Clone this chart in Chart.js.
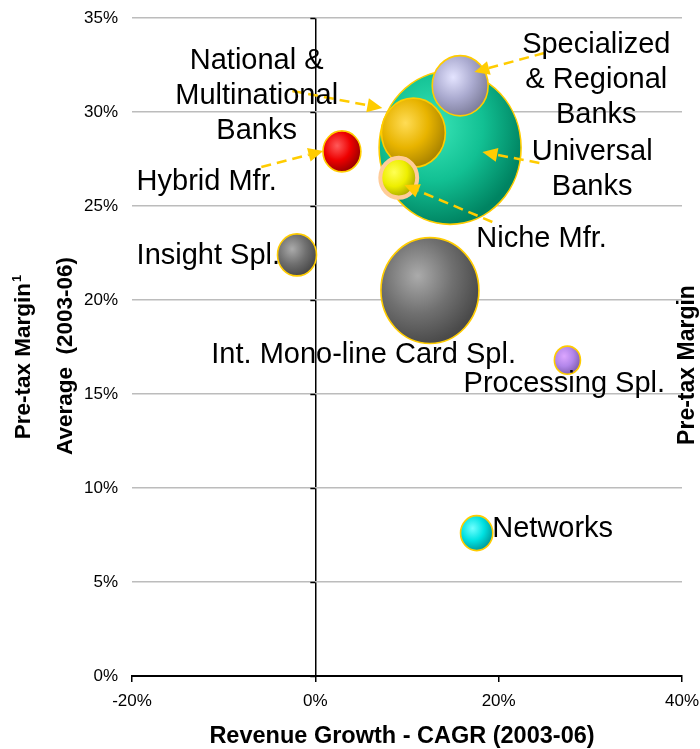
<!DOCTYPE html>
<html>
<head>
<meta charset="utf-8">
<script src="https://cdn.jsdelivr.net/npm/chart.js@4.4.0/dist/chart.umd.min.js"></script>
<style>
  html, body { margin: 0; padding: 0; background: #ffffff; }
  canvas { display: block; }
</style>
</head>
<body>
<canvas id="chart" width="700" height="749"></canvas>
<script>
// Card industry segments: revenue growth vs. pre-tax margin (2003-06), bubble = revenue pool
const segments = [
  'Universal Banks',
  'Int. Mono-line Card Spl.',
  'Specialized & Regional Banks',
  'National & Multinational Banks',
  'Insight Spl.',
  'Hybrid Mfr.',
  'Niche Mfr.',
  'Processing Spl.',
  'Networks'
];
const revenueGrowth = [14.7, 12.5, 15.8, 10.7, -2.0, 2.9, 9.1, 27.5, 17.6];   // CAGR 2003-06, %
const pretaxMargin  = [28.1, 20.5, 31.4, 28.9, 22.4, 27.9, 26.5, 16.8, 7.6];   // average 2003-06, %
const revenuePool   = [50.4, 24.0, 7.8, 10.2, 3.8, 3.6, 3.4, 1.7, 2.6];        // relative size
const xTicks = [-20, 0, 20, 40];
const yTicks = [0, 5, 10, 15, 20, 25, 30, 35];

const FONT = "'Liberation Sans', Arial, Helvetica, sans-serif";

// shading per segment: highlight, body, rim
const shades = {
  'Universal Banks':                ['#3ae6b8', '#12c093', '#008462'],
  'Int. Mono-line Card Spl.':       ['#ababab', '#707070', '#4a4a4a'],
  'Specialized & Regional Banks':   ['#e4e4ff', '#ababd0', '#80809e'],
  'National & Multinational Banks': ['#ffdc55', '#e8b400', '#ad8600'],
  'Insight Spl.':                   ['#ababab', '#707070', '#4a4a4a'],
  'Hybrid Mfr.':                    ['#ff5a5a', '#ee0000', '#9c0000'],
  'Niche Mfr.':                     ['#ffff55', '#eeee00', '#a8a800'],
  'Processing Spl.':                ['#dca6ff', '#b286ea', '#8260b4'],
  'Networks':                       ['#70ffff', '#00e2e2', '#009e9e']
};
const rimColor = { 'Niche Mfr.': ['#ffcc99', 4] };

// callout text, anchored in data units (growth %, margin %) at the middle of the capitals
const callouts = [
  { lines: ['National &', 'Multinational', 'Banks'], x: -6.4, y: 32.85, align: 'center' },
  { lines: ['Hybrid Mfr.'], x: -19.5, y: 26.4, align: 'left' },
  { lines: ['Insight Spl.'], x: -19.5, y: 22.45, align: 'left' },
  { lines: ['Specialized', '& Regional', 'Banks'], x: 30.65, y: 33.67, align: 'center' },
  { lines: ['Universal', 'Banks'], x: 30.2, y: 27.98, align: 'center' },
  { lines: ['Niche Mfr.'], x: 17.56, y: 23.4, align: 'left' },
  { lines: ['Int. Mono-line Card Spl.'], x: -11.35, y: 17.23, align: 'left' },
  { lines: ['Processing Spl.'], x: 27.16, y: 15.64, align: 'center' },
  { lines: ['Networks'], x: 19.3, y: 7.93, align: 'left' }
];
const pointers = [
  { from: [-2.5, 31.12], to: [7.31, 30.21] },
  { from: [-5.89, 27.07], to: [0.87, 27.93] },
  { from: [24.98, 33.14], to: [17.35, 32.13] },
  { from: [24.44, 27.29], to: [18.22, 27.87] },
  { from: [19.31, 24.15], to: [9.71, 26.12] }
];

const points = segments.map((s, i) => ({
  x: revenueGrowth[i],
  y: pretaxMargin[i],
  r: 10 * Math.sqrt(revenuePool[i]),
  label: s
}));

function drawArrow(ctx, x1, y1, x2, y2) {
  const ang = Math.atan2(y2 - y1, x2 - x1);
  const headLen = 15, headW = 7;
  const bx = x2 - headLen * Math.cos(ang);
  const by = y2 - headLen * Math.sin(ang);
  ctx.save();
  ctx.strokeStyle = '#ffcc00';
  ctx.fillStyle = '#ffcc00';
  ctx.lineWidth = 2.5;
  ctx.setLineDash([10, 6]);
  ctx.beginPath();
  ctx.moveTo(x1, y1);
  ctx.lineTo(bx, by);
  ctx.stroke();
  ctx.setLineDash([]);
  ctx.beginPath();
  ctx.moveTo(x2, y2);
  ctx.lineTo(bx + headW * Math.sin(ang), by - headW * Math.cos(ang));
  ctx.lineTo(bx - headW * Math.sin(ang), by + headW * Math.cos(ang));
  ctx.closePath();
  ctx.fill();
  ctx.restore();
}

const segmentArt = {
  id: 'segmentArt',
  beforeDatasetsDraw(chart) {
    // small ticks on the vertical axis through 0%
    const { ctx, scales: { x, y } } = chart;
    const x0 = x.getPixelForValue(0);
    ctx.save();
    ctx.strokeStyle = '#000';
    ctx.lineWidth = 1.5;
    yTicks.forEach(v => {
      const py = Math.round(y.getPixelForValue(v)) + 0.5;
      ctx.beginPath();
      ctx.moveTo(x0 - 5, py);
      ctx.lineTo(x0, py);
      ctx.stroke();
    });
    ctx.restore();
  },
  afterDatasetsDraw(chart) {
    const { ctx, scales: { x, y } } = chart;
    const meta = chart.getDatasetMeta(0);
    // shaded bubbles
    meta.data.forEach((el, i) => {
      const r = el.options.radius;
      const name = segments[i];
      const c = shades[name];
      ctx.save();
      ctx.translate(el.x, el.y);
      ctx.scale(1, 1.08);
      const hx = -0.25 * r, hy = -0.28 * r;
      const g = ctx.createRadialGradient(hx, hy, 0, hx, hy, r * 1.3);
      g.addColorStop(0, c[0]);
      g.addColorStop(0.55, c[1]);
      g.addColorStop(1, c[2]);
      ctx.beginPath();
      ctx.arc(0, 0, r, 0, Math.PI * 2);
      ctx.fillStyle = g;
      ctx.fill();
      const rim = rimColor[name] || ['#ffcc00', 1.6];
      ctx.lineWidth = rim[1];
      ctx.strokeStyle = rim[0];
      ctx.stroke();
      ctx.restore();
    });
    // pointer arrows
    pointers.forEach(p => {
      drawArrow(ctx,
        x.getPixelForValue(p.from[0]), y.getPixelForValue(p.from[1]),
        x.getPixelForValue(p.to[0]), y.getPixelForValue(p.to[1]));
    });
    // callout labels (baseline sits 0.36 em below the middle of the capitals)
    ctx.save();
    ctx.fillStyle = '#000';
    const size = 29;
    ctx.font = size + 'px ' + FONT;
    ctx.textBaseline = 'alphabetic';
    callouts.forEach(c => {
      ctx.textAlign = c.align;
      const px = x.getPixelForValue(c.x);
      const py = y.getPixelForValue(c.y) + 0.36 * size;
      c.lines.forEach((t, k) => ctx.fillText(t, px, py + k * 35));
    });
    ctx.restore();
  },
  afterDraw(chart) {
    const { ctx, chartArea } = chart;
    ctx.save();
    ctx.fillStyle = '#000';
    ctx.textBaseline = 'alphabetic';
    ctx.textAlign = 'left';

    // left axis title, line 1 with footnote mark
    ctx.save();
    ctx.translate(29.5, 357);
    ctx.rotate(-Math.PI / 2);
    ctx.font = 'bold 22.5px ' + FONT;
    const main = 'Pre-tax Margin';
    const w = ctx.measureText(main).width;
    ctx.font = 'bold 13px ' + FONT;
    const sw = ctx.measureText('1').width;
    const start = -(w + sw + 1) / 2;
    ctx.font = 'bold 22.5px ' + FONT;
    ctx.fillText(main, start, 0);
    ctx.font = 'bold 13px ' + FONT;
    ctx.fillText('1', start + w + 1, -9);
    ctx.restore();

    // left axis title, line 2
    ctx.save();
    ctx.translate(71.5, 356);
    ctx.rotate(-Math.PI / 2);
    ctx.font = 'bold 22.5px ' + FONT;
    ctx.textAlign = 'center';
    ctx.fillText('Average  (2003-06)', 0, 0);
    ctx.restore();

    // right axis title
    ctx.save();
    ctx.translate(694, 365);
    ctx.rotate(-Math.PI / 2);
    ctx.font = 'bold 23px ' + FONT;
    ctx.textAlign = 'center';
    ctx.fillText('Pre-tax Margin', 0, 0);
    ctx.restore();

    // horizontal axis title
    ctx.font = 'bold 23.5px ' + FONT;
    ctx.textAlign = 'center';
    ctx.fillText('Revenue Growth - CAGR (2003-06)', (chartArea.left + chartArea.right) / 2 - 5, 742.5);
    ctx.restore();
  }
};

new Chart(document.getElementById('chart'), {
  type: 'bubble',
  data: {
    datasets: [{
      data: points,
      backgroundColor: 'rgba(0,0,0,0)',
      borderWidth: 0,
      hoverRadius: 0,
      hoverBorderWidth: 0
    }]
  },
  options: {
    responsive: false,
    animation: false,
    devicePixelRatio: 1,
    events: [],
    layout: { autoPadding: false, padding: { top: 18, right: 18, left: 0, bottom: 0 } },
    plugins: { legend: { display: false }, tooltip: { enabled: false } },
    scales: {
      x: {
        type: 'linear',
        min: -20,
        max: 40,
        afterBuildTicks: s => { s.ticks = xTicks.map(v => ({ value: v })); },
        afterFit: s => { s.height = 73; s.paddingLeft = 0; s.paddingRight = 0; },
        grid: {
          color: c => (c.tick && c.tick.value === 0) ? '#000000' : 'rgba(0,0,0,0)',
          lineWidth: 1.5,
          tickColor: '#000000',
          tickLength: 6,
          tickWidth: 1.5
        },
        border: { display: true, color: '#000000', width: 2 },
        ticks: {
          callback: v => v + '%',
          font: { family: FONT, size: 17 },
          color: '#000000',
          padding: 9,
          maxRotation: 0,
          autoSkip: false
        }
      },
      y: {
        type: 'linear',
        min: 0,
        max: 35,
        afterBuildTicks: s => { s.ticks = yTicks.map(v => ({ value: v })); },
        afterFit: s => { s.width = 132; s.paddingTop = 0; s.paddingBottom = 0; },
        grid: { color: '#bcbcbc', lineWidth: 1.5, drawTicks: false },
        border: { display: false },
        ticks: {
          callback: v => v + '%',
          font: { family: FONT, size: 17 },
          color: '#000000',
          padding: 14,
          autoSkip: false
        }
      }
    }
  },
  plugins: [segmentArt]
});
</script>
</body>
</html>
